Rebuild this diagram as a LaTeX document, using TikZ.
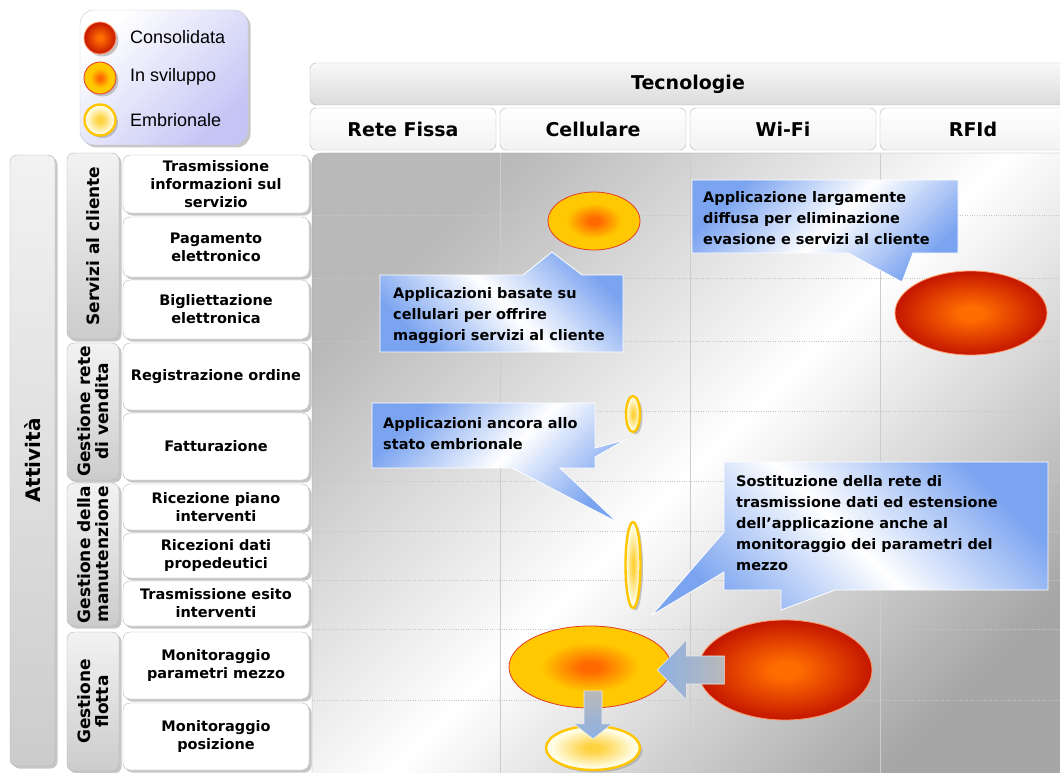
\documentclass[tikz,border=0pt]{standalone}
\usepackage{fontspec}
\setmainfont{DejaVu Sans}
\newfontfamily\legfont{Liberation Sans}
\usetikzlibrary{shapes.geometric,shadows,calc}
\definecolor{consC}{RGB}{255,108,0}
\definecolor{consE}{RGB}{196,22,0}
\definecolor{consB}{RGB}{255,150,100}
\definecolor{svilC}{RGB}{255,105,0}
\definecolor{svilE}{RGB}{255,200,0}
\definecolor{svilB}{RGB}{226,60,40}
\definecolor{embC}{RGB}{255,210,64}
\definecolor{embE}{RGB}{255,253,228}
\definecolor{oro}{RGB}{255,198,0}
\definecolor{celeste}{RGB}{122,163,240}
\definecolor{lavanda}{RGB}{196,196,245}
\definecolor{frecciablu}{RGB}{140,176,228}
\pgfdeclareradialshading{consolidata}{\pgfpoint{0bp}{0bp}}{color(0bp)=(consC); color(4bp)=(consC); color(25bp)=(consE); color(50bp)=(consE)}
\pgfdeclareradialshading{sviluppo}{\pgfpoint{0bp}{0bp}}{color(0bp)=(svilC); color(3bp)=(svilC); color(15bp)=(svilE); color(50bp)=(svilE)}
\pgfdeclareradialshading{embrionale}{\pgfpoint{0bp}{0bp}}{color(0bp)=(embC); color(4bp)=(embC); color(22bp)=(embE); color(50bp)=(embE)}
\begin{document}
\begin{tikzpicture}[x=1pt,y=-1pt,
	ombra/.style={drop shadow={shadow xshift=2.5pt,shadow yshift=-2.5pt,fill=gray!80,opacity=.55}},
	riga/.style={draw=gray!60,fill=white,rounded corners=7,minimum width=186,inner sep=2,align=center,font=\fontsize{14.5}{18}\selectfont\bfseries,ombra},
	gruppo/.style={draw=gray!60,rounded corners=7,rotate=90,minimum height=52,inner sep=1,top color=gray!10,bottom color=gray!40,align=center,font=\fontsize{17}{18.5}\selectfont\bfseries,ombra},
	colonna/.style={draw=gray!60,rounded corners=6,minimum width=186,minimum height=42,top color=white,bottom color=gray!10,font=\fontsize{19}{22}\selectfont\bfseries},
	fumetto/.style={top color=celeste,bottom color=celeste,middle color=white,draw=white,line width=.8},
	testo/.style={anchor=base west,inner sep=0,align=left,font=\fontsize{14.5}{21}\selectfont\bfseries},
	consolidata/.style={ellipse,inner sep=0,shade,shading=consolidata,draw=consB,line width=.8},
	sviluppo/.style={ellipse,inner sep=0,shade,shading=sviluppo,draw=svilB,line width=.8},
	embrionale/.style={ellipse,inner sep=0,shade,shading=embrionale,draw=oro,line width=2.4,ombra},
	freccia/.style={draw=white!85!gray,line width=.6}]
	\useasboundingbox (0,0) rectangle (1060,773);
	\node[draw=gray!45,rounded corners=14,top color=white,bottom color=lavanda,shading angle=45,minimum width=168,minimum height=135,ombra] (leg) at (164,77.5) {};
	\node[consolidata,minimum width=32,minimum height=32,ombra] (lc) at (100,38) {};
	\node[sviluppo,minimum width=32,minimum height=32,ombra] (ls) at (100,78) {};
	\node[embrionale,minimum width=31,minimum height=31] (le) at (100,120) {};
	\node[anchor=west,inner sep=0,font=\legfont\fontsize{18}{20}\selectfont] (tc) at (130,37) {Consolidata};
	\node[anchor=west,inner sep=0,font=\legfont\fontsize{18}{20}\selectfont] (ts) at (130,77) {In sviluppo};
	\node[anchor=west,inner sep=0,font=\legfont\fontsize{18}{20}\selectfont] (te) at (130,120) {Embrionale};
	\node[colonna,minimum width=756,top color=gray!5,bottom color=gray!28] (tec) at (688,84) {Tecnologie};
	\node[colonna] (k1) at (403,129) {Rete Fissa};
	\node[colonna] (k2) at (593,129) {Cellulare};
	\node[colonna] (k3) at (783,129) {Wi-Fi};
	\node[colonna] (k4) at (973,129) {RFId};
	\shade[rounded corners=9,top color=gray!55,bottom color=gray!70,middle color=white,shading angle=45,draw=gray!75] (312,153) rectangle (1075,790);
	\draw[gray!40] (500,153) -- (500,773) (690,153) -- (690,773) (880,153) -- (880,773);
	\draw[gray!45,dotted] (312,215) -- (1060,215) (312,278) -- (1060,278) (312,341) -- (1060,341) (312,411) -- (1060,411) (312,481) -- (1060,481);
	\draw[gray!45,dotted] (312,531) -- (1060,531) (312,580) -- (1060,580) (312,629) -- (1060,629) (312,700) -- (1060,700);
	\node[gruppo,minimum width=611,minimum height=45,font=\fontsize{20}{24}\selectfont\bfseries] (att) at (32.5,460.5) {Attività};
	\node[gruppo,minimum width=186] (g1) at (93,246) {Servizi al cliente};
	\node[gruppo,minimum width=137] (g2) at (93,411.5) {Gestione rete\\di vendita};
	\node[gruppo,minimum width=143] (g3) at (93,554.5) {Gestione della\\manutenzione};
	\node[gruppo,minimum width=139] (g4) at (93,701.5) {Gestione\\flotta};
	\node[riga,minimum height=58] (r1) at (216,184) {Trasmissione\\informazioni sul\\servizio};
	\node[riga,minimum height=60] (r2) at (216,247) {Pagamento\\elettronico};
	\node[riga,minimum height=59] (r3) at (216,309.5) {Bigliettazione\\elettronica};
	\node[riga,minimum height=67] (r4) at (216,376.5) {Registrazione ordine};
	\node[riga,minimum height=67] (r5) at (216,446.5) {Fatturazione};
	\node[riga,minimum height=46] (r6) at (216,507) {Ricezione piano\\interventi};
	\node[riga,minimum height=45] (r7) at (216,555.5) {Ricezioni dati\\propedeutici};
	\node[riga,minimum height=45] (r8) at (216,603.5) {Trasmissione esito\\interventi};
	\node[riga,minimum height=67] (r9) at (216,665.5) {Monitoraggio\\parametri mezzo};
	\node[riga,minimum height=67] (r10) at (216,736.5) {Monitoraggio\\posizione};
	\shade[fumetto,shading angle=-45] (380,275) -- (523,275) -- (552,252) -- (582,275) -- (623,275) -- (623,352) -- (380,352) -- cycle;
	\shade[fumetto,shading angle=45] (692,180) -- (958,180) -- (958,253) -- (913,253) -- (902,282) -- (848,253) -- (692,253) -- cycle;
	\shade[fumetto,shading angle=45] (372,403) -- (595,403) -- (595,448) -- (625,440) -- (595,457) -- (595,468) -- (560,468) -- (617,522) -- (512,468) -- (372,468) -- cycle;
	\shade[fumetto,shading angle=-45] (724,462) -- (1048,462) -- (1048,590) -- (835,590) -- (781,610) -- (781,590) -- (724,590) -- (724,572) -- (652,615) -- (724,532) -- cycle;
	\node[testo] (f1) at (393,340) {Applicazioni basate su\\cellulari per offrire\\maggiori servizi al cliente};
	\node[testo] (f2) at (703,244) {Applicazione largamente\\diffusa per eliminazione\\evasione e servizi al cliente};
	\node[testo] (f3) at (383,449) {Applicazioni ancora allo\\stato embrionale};
	\node[testo] (f4) at (736,570) {Sostituzione della rete di\\trasmissione dati ed estensione\\dell’applicazione anche al\\monitoraggio dei parametri del\\mezzo};
	\node[sviluppo,minimum width=92,minimum height=58] (s1) at (594,221) {};
	\node[consolidata,minimum width=152,minimum height=84] (c1) at (971,313) {};
	\node[embrionale,minimum width=14,minimum height=36] (e1) at (633,414) {};
	\node[embrionale,minimum width=15,minimum height=86] (e2) at (633,565) {};
	\node[sviluppo,minimum width=162,minimum height=82] (s2) at (590,667) {};
	\node[consolidata,minimum width=174,minimum height=100] (c2) at (785,670) {};
	\node[embrionale,minimum width=94,minimum height=44] (e3) at (593,748) {};
	\draw[freccia,left color=frecciablu,right color=gray!55] ($(s2.east)+(-14,3)$) -- ++(29,-30) -- ++(0,16) -- ++(38,0) -- ++(0,28) -- ++(-38,0) -- ++(0,16) -- cycle;
	\draw[freccia,top color=gray!55,bottom color=frecciablu] ($(e3.north)+(0,14)$) -- ++(-19,-15) -- ++(10,0) -- ++(0,-33) -- ++(18,0) -- ++(0,33) -- ++(10,0) -- cycle;
\end{tikzpicture}
\end{document}
